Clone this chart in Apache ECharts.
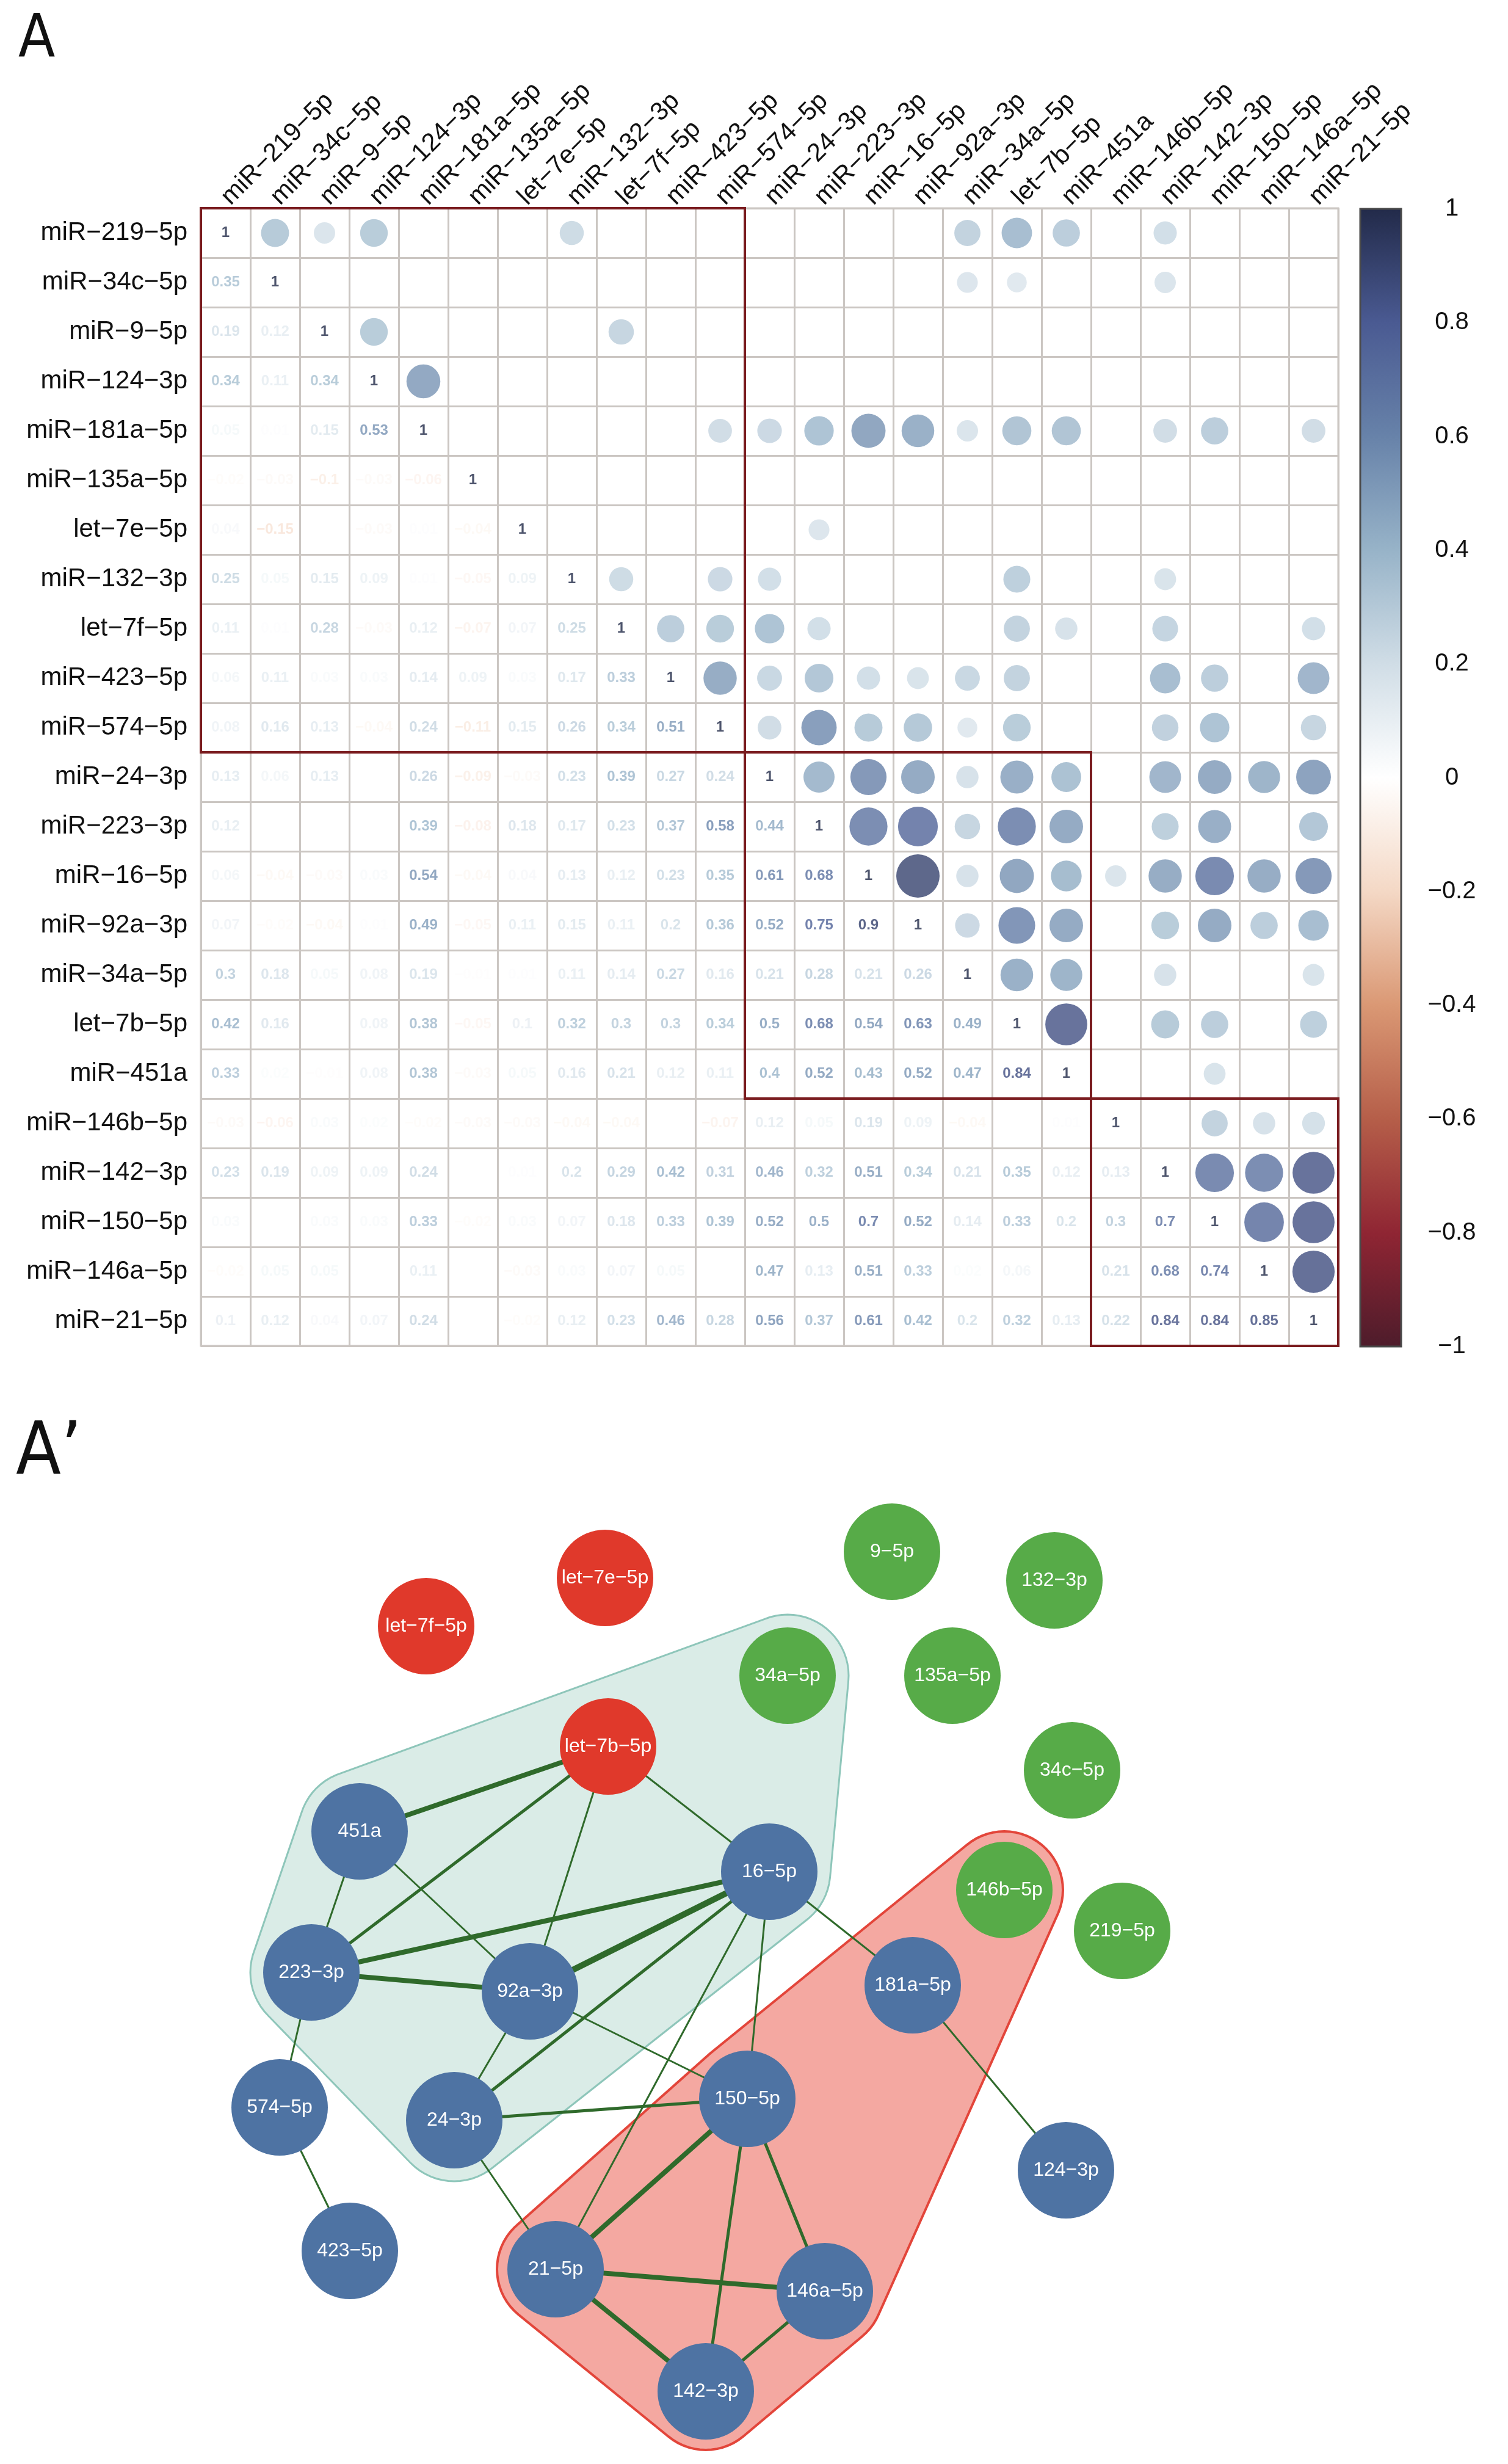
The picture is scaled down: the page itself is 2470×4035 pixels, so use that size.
<!DOCTYPE html>
<html><head><meta charset="utf-8">
<script src="https://cdn.jsdelivr.net/npm/echarts@6/dist/echarts.min.js"></script>
<style>html,body{margin:0;padding:0;background:#fff}#c{width:2470px;height:4035px}</style>
</head><body><div id="c"></div>
<script>
// ---------------- DATA ----------------
const mirs = ['miR-219-5p','miR-34c-5p','miR-9-5p','miR-124-3p','miR-181a-5p','miR-135a-5p','let-7e-5p','miR-132-3p','let-7f-5p','miR-423-5p','miR-574-5p','miR-24-3p','miR-223-3p','miR-16-5p','miR-92a-3p','miR-34a-5p','let-7b-5p','miR-451a','miR-146b-5p','miR-142-3p','miR-150-5p','miR-146a-5p','miR-21-5p'];

// lower triangle correlations: row i, columns 0..i-1
const lowerCorr = [
  [],
  [0.35],
  [0.19, 0.12],
  [0.34, 0.11, 0.34],
  [0.05, 0.01, 0.15, 0.53],
  [-0.02, -0.03, -0.1, -0.03, -0.06],
  [0.04, -0.15, 0, -0.03, 0.01, -0.04],
  [0.25, 0.05, 0.15, 0.09, 0.01, -0.05, 0.09],
  [0.11, 0.01, 0.28, -0.03, 0.12, -0.07, 0.07, 0.25],
  [0.06, 0.11, 0.03, 0.03, 0.14, 0.09, 0.03, 0.17, 0.33],
  [0.08, 0.16, 0.13, -0.04, 0.24, -0.11, 0.15, 0.26, 0.34, 0.51],
  [0.13, 0.06, 0.13, 0, 0.26, -0.09, -0.03, 0.23, 0.39, 0.27, 0.24],
  [0.12, 0, 0, 0, 0.39, -0.08, 0.18, 0.17, 0.23, 0.37, 0.58, 0.44],
  [0.06, -0.04, -0.03, 0.03, 0.54, -0.04, 0.04, 0.13, 0.12, 0.23, 0.35, 0.61, 0.68],
  [0.07, -0.02, -0.04, 0.01, 0.49, -0.05, 0.11, 0.15, 0.11, 0.2, 0.36, 0.52, 0.75, 0.9],
  [0.3, 0.18, 0.05, 0.08, 0.19, -0.01, 0.01, 0.11, 0.14, 0.27, 0.16, 0.21, 0.28, 0.21, 0.26],
  [0.42, 0.16, 0, 0.08, 0.38, -0.05, 0.1, 0.32, 0.3, 0.3, 0.34, 0.5, 0.68, 0.54, 0.63, 0.49],
  [0.33, 0.02, -0.01, 0.08, 0.38, -0.03, 0.05, 0.16, 0.21, 0.12, 0.11, 0.4, 0.52, 0.43, 0.52, 0.47, 0.84],
  [-0.03, -0.06, 0.03, 0.02, -0.02, -0.03, -0.03, -0.04, -0.04, 0, -0.07, 0.12, 0.05, 0.19, 0.09, -0.04, 0, 0.01],
  [0.23, 0.19, 0.09, 0.09, 0.24, 0, 0.01, 0.2, 0.29, 0.42, 0.31, 0.46, 0.32, 0.51, 0.34, 0.21, 0.35, 0.12, 0.13],
  [0.03, 0, 0.03, 0.03, 0.33, -0.02, 0.03, 0.07, 0.18, 0.33, 0.39, 0.52, 0.5, 0.7, 0.52, 0.14, 0.33, 0.2, 0.3, 0.7],
  [-0.02, 0.05, 0.05, 0, 0.11, 0, -0.03, 0.03, 0.07, 0.05, 0, 0.47, 0.13, 0.51, 0.33, 0.02, 0.06, 0, 0.21, 0.68, 0.74],
  [0.1, 0.12, 0.04, 0.07, 0.24, 0, -0.02, 0.12, 0.23, 0.46, 0.28, 0.56, 0.37, 0.61, 0.42, 0.2, 0.32, 0.13, 0.22, 0.84, 0.84, 0.85]
];

// significant pairs shown as circles in the upper triangle: row i -> columns j (> i)
const sigUpper = [
  [1,2,3,7,15,16,17,19],
  [15,16,19],
  [3,8],
  [4],
  [10,11,12,13,14,15,16,17,19,20,22],
  [],
  [12],
  [8,10,11,16,19],
  [9,10,11,12,16,17,19,22],
  [10,11,12,13,14,15,16,19,20,22],
  [11,12,13,14,15,16,19,20,22],
  [12,13,14,15,16,17,19,20,21,22],
  [13,14,15,16,17,19,20,22],
  [14,15,16,17,18,19,20,21,22],
  [15,16,17,19,20,21,22],
  [16,17,19,22],
  [17,19,20,22],
  [20],
  [20,21,22],
  [20,21,22],
  [21,22],
  [22],
  []
];

// clusters (first, last index) outlined in the matrix
const clusterStart = [0, 11, 18];
const clusterEnd = [10, 17, 22];

// colour scale of the colour bar
const scaleValues = [-1,-0.8,-0.6,-0.4,-0.2,0,0.2,0.4,0.6,0.8,1];
const scaleColors = ['#4d1c2b','#8f2533','#b55e49','#da9874','#f4d8c5','#ffffff','#d0dde6','#97b3c8','#6782a9','#4a5a92','#222a49'];

// network
const netNames = ['let-7f-5p','let-7e-5p','9-5p','132-3p','34a-5p','135a-5p','let-7b-5p','34c-5p','451a','16-5p','146b-5p','219-5p','223-3p','92a-3p','181a-5p','574-5p','24-3p','150-5p','124-3p','423-5p','21-5p','146a-5p','142-3p'];
const netGroup = ['let','let','other','other','other','other','let','other','core','core','other','other','core','core','core','core','core','core','core','core','core','core','core'];
const netX = [698, 991, 1461, 1727, 1290, 1560, 996, 1756, 589, 1260, 1645, 1838, 510, 868, 1495, 458, 744, 1224, 1746, 573, 910, 1351, 1156];
const netY = [2663, 2584, 2541, 2588, 2744, 2744, 2860, 2899, 2999, 3065, 3095, 3162, 3230, 3261, 3251, 3451, 3472, 3437, 3554, 3686, 3716, 3752, 3916];
const edgeFrom = ['let-7b-5p','let-7b-5p','let-7b-5p','let-7b-5p','451a','451a','16-5p','16-5p','16-5p','16-5p','16-5p','16-5p','223-3p','223-3p','92a-3p','92a-3p','24-3p','24-3p','574-5p','181a-5p','150-5p','150-5p','150-5p','21-5p','21-5p','146a-5p'];
const edgeTo   = ['451a','223-3p','92a-3p','16-5p','223-3p','92a-3p','223-3p','92a-3p','24-3p','150-5p','21-5p','181a-5p','92a-3p','574-5p','24-3p','150-5p','150-5p','21-5p','423-5p','124-3p','21-5p','142-3p','146a-5p','146a-5p','142-3p','142-3p'];
const edgeStrength = [3,2,1,1,1,1,3,4,2,1,1,1,3,1,1,1,2,1,1,1,3,2,2,3,3,2];
const moduleTeal = ['34a-5p','let-7b-5p','451a','223-3p','92a-3p','24-3p','16-5p'];
const moduleRed = ['146b-5p','181a-5p','150-5p','21-5p','146a-5p','142-3p'];

// ---------------- HELPERS ----------------
const MINUS = '\u2212';
const disp = s => s.replace(/-/g, MINUS);
function corr(i, j) { return i === j ? 1 : (i > j ? lowerCorr[i][j] : lowerCorr[j][i]); }
function hex2rgb(h){ return [parseInt(h.slice(1,3),16), parseInt(h.slice(3,5),16), parseInt(h.slice(5,7),16)]; }
function cmap(v){
  v = Math.max(-1, Math.min(1, v));
  for (let k = 0; k < scaleValues.length - 1; k++) {
    if (v <= scaleValues[k+1]) {
      const t = (v - scaleValues[k]) / (scaleValues[k+1] - scaleValues[k]);
      const a = hex2rgb(scaleColors[k]), b = hex2rgb(scaleColors[k+1]);
      return 'rgb(' + a.map((x,q)=>Math.round(x + (b[q]-x)*t)).join(',') + ')';
    }
  }
  return scaleColors[scaleColors.length-1];
}
function fmt(v){ return disp(String(+v.toFixed(2))); }
function convexHull(points){
  const p = points.slice().sort((a,b)=>a[0]-b[0]||a[1]-b[1]);
  const cross=(o,a,b)=>(a[0]-o[0])*(b[1]-o[1])-(a[1]-o[1])*(b[0]-o[0]);
  const lo=[], up=[];
  for (const q of p){ while(lo.length>=2&&cross(lo[lo.length-2],lo[lo.length-1],q)<=0) lo.pop(); lo.push(q); }
  for (let i=p.length-1;i>=0;i--){ const q=p[i]; while(up.length>=2&&cross(up[up.length-2],up[up.length-1],q)<=0) up.pop(); up.push(q); }
  up.pop(); lo.pop(); return lo.concat(up);
}

// ---------------- LAYOUT / STYLE ----------------
const N = mirs.length;
const MAT = {left: 329, top: 341, size: 1863};
const CELL = MAT.size / N;
const FONT = "'Liberation Sans', Arial, Helvetica, sans-serif";
const NARROW = "'Liberation Sans Narrow', 'DejaVu Sans Condensed', 'Liberation Sans', sans-serif";
const groupColor = {core: '#4e73a3', let: '#e0392b', other: '#57ab48'};

// ---------------- SERIES DATA ----------------
const circleData = [];
sigUpper.forEach((cols, i) => cols.forEach(j => {
  const r = corr(i, j);
  circleData.push({value: [j, i, r], symbolSize: CELL * (0.054 + 0.867 * Math.sqrt(Math.abs(r))), itemStyle: {color: cmap(r)}});
}));
const numberData = [];
for (let i = 0; i < N; i++) for (let j = 0; j <= i; j++) {
  const r = corr(i, j);
  numberData.push({value: [j, i, r], label: {color: cmap(r)}});
}
const clusterData = clusterStart.map((s, k) => [s, clusterEnd[k]]);

const nodeData = netNames.map((n, k) => ({name: n, value: [netX[k], netY[k]], itemStyle: {color: groupColor[netGroup[k]]}}));
const widthOf = {1: 3, 2: 5, 3: 8, 4: 10};
const linkData = edgeFrom.map((s, k) => ({source: s, target: edgeTo[k], lineStyle: {width: widthOf[edgeStrength[k]]}}));
const modules = [
  {members: moduleTeal, fill: 'rgba(204,228,222,0.72)', stroke: '#8ec6ba', lw: 3, pad: 100},
  {members: moduleRed, fill: '#f4a8a1', stroke: '#e3453a', lw: 4, pad: 96}
];

const chart = echarts.init(document.getElementById('c'), null, {renderer: 'canvas', width: 2470, height: 4035, devicePixelRatio: 1});

const option = {
  backgroundColor: '#ffffff',
  animation: false,
  textStyle: {fontFamily: FONT},
  grid: [
    {left: MAT.left, top: MAT.top, width: MAT.size, height: MAT.size, show: true, borderColor: '#cbc6c2', borderWidth: 3, backgroundColor: 'transparent', containLabel: false, outerBoundsMode: 'none'},
    {left: 2228, top: 342, width: 67, height: 1863, containLabel: false, outerBoundsMode: 'none'},
    {left: 0, top: 2300, width: 2470, height: 1735, containLabel: false, outerBoundsMode: 'none'}
  ],
  xAxis: [
    {gridIndex: 0, type: 'category', data: mirs.map(disp), position: 'top', boundaryGap: true,
     axisLine: {show: false}, axisTick: {show: false},
     axisLabel: {rotate: -45, interval: 0, margin: 12, fontSize: 42, color: '#111', fontFamily: FONT},
     splitLine: {show: true, interval: 0, lineStyle: {color: '#cbc6c2', width: 3}}},
    {gridIndex: 1, type: 'value', min: 0, max: 1, show: false},
    {gridIndex: 2, type: 'value', min: 0, max: 2470, show: false}
  ],
  yAxis: [
    {gridIndex: 0, type: 'category', data: mirs.map(disp), inverse: true, boundaryGap: true,
     axisLine: {show: false}, axisTick: {show: false},
     axisLabel: {interval: 0, margin: 22, fontSize: 42, color: '#111', fontFamily: FONT},
     splitLine: {show: true, interval: 0, lineStyle: {color: '#cbc6c2', width: 3}}},
    {gridIndex: 1, type: 'value', min: -1, max: 1, interval: 0.2, position: 'right',
     axisLine: {show: false}, splitLine: {show: false},
     axisTick: {show: true, inside: false, length: 16, lineStyle: {color: '#555', width: 2}},
     axisLabel: {margin: 83, align: 'center', fontSize: 40, color: '#111', fontFamily: FONT,
       formatter: v => fmt(v)}},
    {gridIndex: 2, type: 'value', min: 2300, max: 4035, inverse: true, show: false}
  ],
  graphic: [
    {type: 'text', left: 30, top: 18, style: {text: 'A', fontSize: 98, fontFamily: NARROW, fill: '#111'}},
    {type: 'text', left: 26, top: 2322, style: {text: 'A\u2019', fontSize: 120, fontFamily: NARROW, fill: '#111'}}
  ],
  series: [
    {name: 'circles', type: 'scatter', xAxisIndex: 0, yAxisIndex: 0, symbol: 'circle', data: circleData, z: 3, silent: true},
    {name: 'numbers', type: 'scatter', xAxisIndex: 0, yAxisIndex: 0, symbol: 'circle', symbolSize: 1,
     itemStyle: {color: 'rgba(0,0,0,0)'}, z: 4, silent: true,
     label: {show: true, position: 'inside', fontSize: 24, fontWeight: 'bold', fontFamily: FONT,
       formatter: p => fmt(p.value[2])},
     data: numberData},
    {name: 'clusters', type: 'custom', xAxisIndex: 0, yAxisIndex: 0, z: 5, silent: true, clip: false,
     data: clusterData,
     renderItem: (params, api) => {
       const a = api.value(0), b = api.value(1);
       const p0 = api.coord([a, a]), p1 = api.coord([b, b]), s = api.size([1, 1]);
       return {type: 'rect', shape: {x: p0[0] - s[0]/2, y: p0[1] - s[1]/2, width: p1[0] - p0[0] + s[0], height: p1[1] - p0[1] + s[1]},
               style: {fill: 'none', stroke: '#7a1c1f', lineWidth: 4}};
     }},
    {name: 'colorbar', type: 'custom', xAxisIndex: 1, yAxisIndex: 1, silent: true, clip: false,
     data: [[0, 0]],
     renderItem: (params, api) => {
       const p0 = api.coord([0, 1]), p1 = api.coord([1, -1]);
       const stops = scaleValues.map((v, k) => ({offset: (1 - v) / 2, color: scaleColors[k]})).reverse();
       return {type: 'rect', shape: {x: p0[0], y: p0[1], width: p1[0] - p0[0], height: p1[1] - p0[1]},
               style: {fill: new echarts.graphic.LinearGradient(0, 0, 0, 1, stops), stroke: '#4a4a4a', lineWidth: 3}};
     }},
    {name: 'modules', type: 'custom', xAxisIndex: 2, yAxisIndex: 2, z: 1, silent: true, clip: false,
     data: modules.map((m, k) => [k, 2400]),
     renderItem: (params, api) => {
       const m = modules[params.dataIndex];
       const pts = [];
       m.members.forEach(n => {
         const k = netNames.indexOf(n);
         const c = api.coord([netX[k], netY[k]]);
         for (let a = 0; a < 64; a++) { const t = a / 64 * Math.PI * 2; pts.push([c[0] + m.pad * Math.cos(t), c[1] + m.pad * Math.sin(t)]); }
       });
       return {type: 'polygon', shape: {points: convexHull(pts)}, style: {fill: m.fill, stroke: m.stroke, lineWidth: m.lw}};
     }},
    {name: 'network', type: 'graph', coordinateSystem: 'cartesian2d', xAxisIndex: 2, yAxisIndex: 2, z: 3,
     symbol: 'circle', symbolSize: 158, silent: true,
     label: {show: true, position: 'inside', color: '#ffffff', fontSize: 32, fontFamily: FONT, formatter: p => disp(p.name)},
     lineStyle: {color: '#2f6a2b', opacity: 1, curveness: 0},
     data: nodeData, links: linkData}
  ]
};
chart.setOption(option);
</script></body></html>
